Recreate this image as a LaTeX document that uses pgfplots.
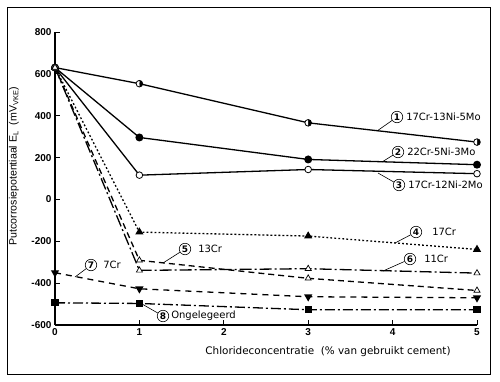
\documentclass[border=0pt]{standalone}
\usepackage{fontspec}
\setmainfont{Liberation Sans}
\newfontfamily\verd{DejaVu Sans}
\usepackage{pgfplots}
\pgfplotsset{compat=1.18}
\usetikzlibrary{plotmarks}
\tikzset{
  circ/.style={draw, circle, line width=0.6pt, inner sep=0pt, minimum size=11.5pt, font=\verd\bfseries\fontsize{9}{9}\selectfont},
  lbl/.style={anchor=west, inner sep=0pt, font=\verd\fontsize{10}{10}\selectfont},
}
\newcommand{\lab}[8]{%
  \node[circ] (c#3) at (#1pt,-#2pt) {#3};
  \draw[line width=0.6pt] (c#3) -- (#6pt,-#7pt);
  \node[lbl] at ([xshift=#8pt]c#3.east) {#4};
}
\begin{document}
\begin{tikzpicture}
\path[use as bounding box] (0pt,0pt) rectangle (500pt,-381pt);
\draw[line width=1pt] (7pt,-7pt) rectangle (490pt,-374pt);
\begin{axis}[
  at={(55pt,-325pt)}, anchor=south west,
  scale only axis, width=422pt, height=293pt,
  xmin=0, xmax=5, ymin=-600, ymax=800,
  axis x line=bottom, axis y line=left,
  axis line style={line width=1.3pt, -},
  xtick={0,1,2,3,4,5}, ytick={-600,-400,-200,0,200,400,600,800},
  tick align=inside, xtick align=inside, ytick align=inside,
  major tick length=5pt,
  tick style={line width=0.9pt, black},
  ticklabel style={font=\bfseries\fontsize{10}{12}\selectfont},
  /pgf/number format/assume math mode=true,
  clip=false,
]
% 1 17Cr-13Ni-5Mo
\addplot[line width=1.3pt, mark=halfcircle*, mark size=3.3pt, mark options={solid, fill=black, mark color=white, rotate=-90, line width=0.8pt}]
  coordinates {(0,630)(1,553)(3,366)(5,274)};
% 2 22Cr-5Ni-3Mo
\addplot[line width=1.3pt, mark=*, mark size=3.3pt, mark options={solid, fill=black}]
  coordinates {(0,630)(1,296)(3,191)(5,166)};
% 3 17Cr-12Ni-2Mo
\addplot[line width=1.3pt, mark=*, mark size=3.3pt, mark options={solid, fill=white, line width=0.8pt}]
  coordinates {(0,630)(1,116)(3,143)(5,123)};
% 4 17Cr
\addplot[line width=1.3pt, dash pattern=on 1.8pt off 2.2pt, mark=triangle*, mark size=3.5pt, mark options={solid, fill=black}]
  coordinates {(0,630)(1,-156)(3,-175)(5,-239)};
% 5 13Cr
\addplot[line width=1.3pt, dash pattern=on 6pt off 4pt, mark=triangle*, mark size=3.5pt, mark options={solid, fill=white, line width=0.7pt}]
  coordinates {(0,630)(1,-291)(3,-377)(5,-435)};
% 6 11Cr
\addplot[line width=1.3pt, dash pattern=on 12pt off 3pt on 2pt off 3pt, mark=triangle*, mark size=3.5pt, mark options={solid, fill=white, line width=0.7pt}]
  coordinates {(0,630)(1,-339)(3,-331)(5,-352)};
% 7 7Cr
\addplot[line width=1.3pt, dash pattern=on 6pt off 5pt, mark=triangle*, mark size=3.5pt, mark options={solid, fill=black, rotate=180}]
  coordinates {(0,-350)(1,-427)(3,-465)(5,-470)};
% 8 Ongelegeerd
\addplot[line width=1.3pt, dash pattern=on 10pt off 3pt on 2pt off 3pt, mark=square*, mark size=3pt, mark options={solid, fill=black}]
  coordinates {(0,-494)(1,-497)(3,-527)(5,-527)};
\end{axis}
\lab{397}{117}{1}{17Cr-13Ni-5Mo}{}{377}{131}{3}
\lab{398}{152}{2}{22Cr-5Ni-3Mo}{}{382}{162}{3}
\lab{399}{185}{3}{17Cr-12Ni-2Mo}{}{378}{173}{3}
\lab{416}{232}{4}{17Cr}{}{395}{243}{10}
\lab{185}{249}{5}{13Cr}{}{163}{263}{7}
\lab{410}{259}{6}{11Cr}{}{383}{271}{8}
\lab{91}{265}{7}{7Cr}{}{75}{277}{6}
\lab{163}{316}{8}{Ongelegeerd}{}{142}{304}{2}
\node[font=\verd\fontsize{10.4}{11}\selectfont, inner sep=0pt] at (328pt,-352pt) {Chlorideconcentratie\ \ (\% van gebruikt cement)};
\node[font=\fontsize{10.6}{12}\selectfont, inner sep=0pt, rotate=90] at (14pt,-166pt) {Putcorrosiepotentiaal E\textsubscript{L}\ \ (mV\textsubscript{VKE})};
\end{tikzpicture}
\end{document}
